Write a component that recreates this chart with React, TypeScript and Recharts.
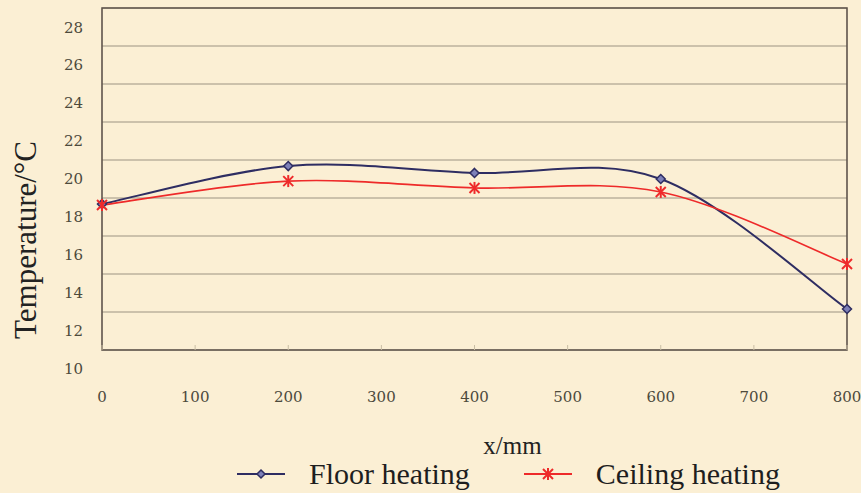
import { LineChart, Line, XAxis, YAxis, CartesianGrid, ReferenceArea } from 'recharts';

const positions = [0, 200, 400, 600, 800];
const floorHeating = [17.68, 19.68, 19.32, 19.0, 12.16];
const ceilingHeating = [17.63, 18.89, 18.53, 18.32, 14.53];
const xTicks = [0, 100, 200, 300, 400, 500, 600, 700, 800];
const yTicks = [10, 12, 14, 16, 18, 20, 22, 24, 26, 28];

const data = positions.map((x, i) => ({ x, floor: floorHeating[i], ceiling: ceilingHeating[i] }));

const BG = '#fbefd4';
const FLOOR = '#2e2d62';
const CEILING = '#ee2a2a';
const TICK_FONT = '"DejaVu Serif", serif';
const TEXT_FONT = '"Liberation Serif", "Times New Roman", serif';

// excel-style smoothed line (bezier with neighbour tangents / 6)
function smoothCurve(context: any) {
  let pts: number[][] = [];
  return {
    areaStart() {},
    areaEnd() {},
    lineStart() { pts = []; },
    lineEnd() {
      if (!pts.length) return;
      context.moveTo(pts[0][0], pts[0][1]);
      for (let i = 0; i < pts.length - 1; i++) {
        const p0 = pts[i - 1] || pts[i];
        const p1 = pts[i];
        const p2 = pts[i + 1];
        const p3 = pts[i + 2] || p2;
        context.bezierCurveTo(
          p1[0] + (p2[0] - p0[0]) / 6, p1[1] + (p2[1] - p0[1]) / 6,
          p2[0] - (p3[0] - p1[0]) / 6, p2[1] - (p3[1] - p1[1]) / 6,
          p2[0], p2[1]
        );
      }
    },
    point(x: number, y: number) { pts.push([+x, +y]); },
  };
}

function Diamond({ cx, cy, size = 4.5 }: any) {
  if (cx == null || cy == null) return null;
  return (
    <polygon
      points={`${cx},${cy - size} ${cx + size},${cy} ${cx},${cy + size} ${cx - size},${cy}`}
      fill="#7d80b8"
      stroke={FLOOR}
      strokeWidth={1.5}
    />
  );
}

function Star({ cx, cy, size = 5 }: any) {
  if (cx == null || cy == null) return null;
  return (
    <g stroke={CEILING} strokeWidth={2}>
      <line x1={cx - size} y1={cy - size} x2={cx + size} y2={cy + size} />
      <line x1={cx - size} y1={cy + size} x2={cx + size} y2={cy - size} />
      <line x1={cx} y1={cy - size - 1} x2={cx} y2={cy + size + 1} />
    </g>
  );
}

function YTick({ x, y, payload }: any) {
  return (
    <text x={x - 19} y={y + 19} textAnchor="end" dominantBaseline="central"
      fontFamily={TICK_FONT} fontSize={15} fill="#4d4a3c">
      {payload.value}
    </text>
  );
}

function XTick({ x, y, payload }: any) {
  return (
    <g>
      <line x1={x} y1={y} x2={x} y2={y - 5} stroke="#c9bea4" strokeWidth={1} />
      <text x={x} y={y + 47} textAnchor="middle" dominantBaseline="central"
        fontFamily={TICK_FONT} fontSize={15} fill="#4d4a3c">
        {payload.value}
      </text>
    </g>
  );
}

function YTitle({ viewBox }: any) {
  const cx = viewBox.x + 25;
  const cy = 240;
  return (
    <text x={cx} y={cy} transform={`rotate(-90, ${cx}, ${cy})`} textAnchor="middle"
      dominantBaseline="central" fontFamily={TEXT_FONT} fontSize={31} fill="#222">
      Temperature/°C
    </text>
  );
}

function XTitle({ viewBox }: any) {
  const cx = viewBox.x + viewBox.width / 2 + 38;
  return (
    <text x={cx} y={viewBox.y + 95} textAnchor="middle" dominantBaseline="central"
      fontFamily={TEXT_FONT} fontSize={25} fill="#222">
      x/mm
    </text>
  );
}

function LegendItem({ kind, label }: { kind: 'floor' | 'ceiling'; label: string }) {
  const color = kind === 'floor' ? FLOOR : CEILING;
  return (
    <div style={{ display: 'flex', alignItems: 'center' }}>
      <svg width={52} height={16} style={{ marginRight: 22 }}>
        <line x1={2} y1={8} x2={50} y2={8} stroke={color} strokeWidth={2} />
        {kind === 'floor' ? <Diamond cx={26} cy={8} size={4} /> : <Star cx={26} cy={8} />}
      </svg>
      <span style={{ fontFamily: TEXT_FONT, fontSize: 30, color: '#1e1e1e', lineHeight: 1 }}>{label}</span>
    </div>
  );
}

export default function App() {
  return (
    <div style={{ position: 'absolute', left: 0, top: 0, width: 861, height: 493, background: BG, overflow: 'hidden' }}>
      <LineChart width={861} height={493} data={data} margin={{ top: 8, right: 14, left: 0, bottom: 0 }}>
        <CartesianGrid vertical={false} stroke="#9c9382" strokeWidth={1} />
        <XAxis
          dataKey="x"
          type="number"
          domain={[0, 800]}
          ticks={xTicks}
          axisLine={false}
          tickLine={false}
          tickSize={0}
          tickMargin={0}
          tick={<XTick />}
          height={143}
          label={<XTitle />}
        />
        <YAxis
          type="number"
          domain={[10, 28]}
          ticks={yTicks}
          axisLine={false}
          tickLine={false}
          tickSize={0}
          tickMargin={0}
          tick={<YTick />}
          width={102}
          label={<YTitle />}
        />
        <ReferenceArea x1={0} x2={800} y1={10} y2={28} fill="none" stroke="#5f544c" strokeWidth={1.6} ifOverflow="visible" />
        <Line
          dataKey="floor"
          type={smoothCurve as any}
          stroke={FLOOR}
          strokeWidth={2}
          dot={<Diamond />}
          activeDot={false}
          isAnimationActive={false}
        />
        <Line
          dataKey="ceiling"
          type={smoothCurve as any}
          stroke={CEILING}
          strokeWidth={1.6}
          dot={<Star />}
          activeDot={false}
          isAnimationActive={false}
        />
      </LineChart>
      <div style={{ position: 'absolute', left: 235, top: 459, display: 'flex', gap: 52 }}>
        <LegendItem kind="floor" label="Floor heating" />
        <LegendItem kind="ceiling" label="Ceiling heating" />
      </div>
    </div>
  );
}
